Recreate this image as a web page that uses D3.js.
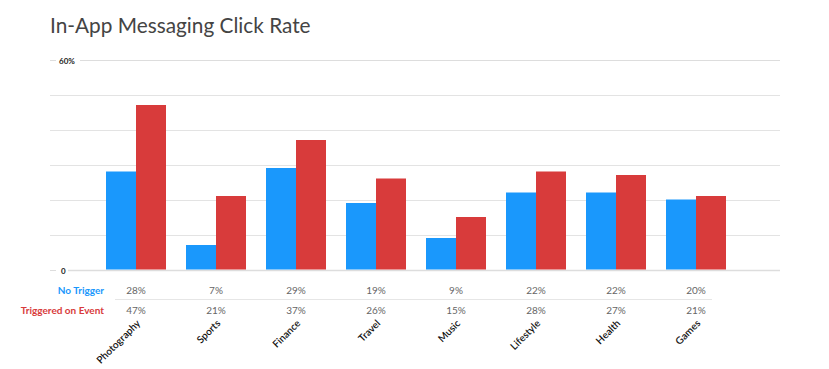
<!DOCTYPE html>
<html><head><meta charset="utf-8">
<script src="https://cdn.jsdelivr.net/npm/d3@7"></script>
<style>body{margin:0;background:#fff}svg{display:block}</style>
</head><body>
<svg id="c" width="829" height="369"></svg>
<script>
const categories = ["Photography","Sports","Finance","Travel","Music","Lifestyle","Health","Games"];
const noTrigger = [28,7,29,19,9,22,22,20];
const triggered = [47,21,37,26,15,28,27,21];
const seriesNames = ["No Trigger","Triggered on Event"];
const yTicks = [0,10,20,30,40,50,60];

const svg = d3.select("#c");
const font = "Lato, 'Open Sans', sans-serif";
const colors = ["#1a98fc","#d83b3b"];

svg.append("text").attr("x",50).attr("y",33).attr("font-family",font)
  .attr("font-size",20.8).attr("fill","#444").text("In-App Messaging Click Rate");

const y = d3.scaleLinear().domain([0,60]).range([269.5,59.5]);
const x = d3.scaleBand().domain(categories).range([96,736]).paddingInner(0.25).paddingOuter(0.125);
const xs = d3.scaleBand().domain([0,1]).range([0,x.bandwidth()]);

// gridlines
const g = svg.append("g");
yTicks.forEach(t=>{
  const yy = Math.round(y(t))+0.5;
  if (t===0 || t===60){
    const lab = t===60 ? "60%" : "0";
    g.append("line").attr("x1",50).attr("x2",56).attr("y1",yy).attr("y2",yy).attr("stroke","#ddd");
    g.append("line").attr("x1",t===60?80:68).attr("x2",780).attr("y1",yy).attr("y2",yy).attr("stroke","#ddd").attr("stroke-width",t===0?1.5:1);
    g.append("text").attr("x",t===60?59:61).attr("y",yy+3).attr("font-family",font).attr("font-size",8)
      .attr("font-weight","bold").attr("fill","#222").text(lab);
  } else {
    g.append("line").attr("x1",50).attr("x2",780).attr("y1",yy).attr("y2",yy).attr("stroke","#e3e3e3");
  }
});

const data = categories.map((c,i)=>({c, v:[noTrigger[i], triggered[i]]}));
const bars = svg.append("g");
data.forEach(d=>{
  d.v.forEach((v,j)=>{
    bars.append("rect").attr("x",x(d.c)+xs(j)).attr("width",xs.bandwidth())
      .attr("y",y(v)).attr("height",y(0)-y(v)).attr("fill",colors[j]);
  });
});

// table
const rowsY = [290,310];
const rows = [noTrigger, triggered];
seriesNames.forEach((n,j)=>{
  svg.append("text").attr("x",104).attr("y",rowsY[j]+4).attr("text-anchor","end")
    .attr("font-family",font).attr("font-size",10).attr("font-weight","bold").attr("fill",colors[j]).text(n);
  rows[j].forEach((v,i)=>{
    svg.append("text").attr("x",x(categories[i])+x.bandwidth()/2).attr("y",rowsY[j]+4).attr("text-anchor","middle")
      .attr("font-family",font).attr("font-size",10).attr("fill","#666").text(v+"%");
  });
});
svg.append("line").attr("x1",115).attr("x2",712).attr("y1",299.5).attr("y2",299.5).attr("stroke","#e6e6e6");

// category labels
categories.forEach(c=>{
  const cx = x(c)+x.bandwidth()/2+5;
  svg.append("text").attr("transform",`translate(${cx},324) rotate(-45)`).attr("text-anchor","end")
    .attr("font-family",font).attr("font-size",10).attr("font-weight",600).attr("fill","#111").text(c);
});
</script>
</body></html>
